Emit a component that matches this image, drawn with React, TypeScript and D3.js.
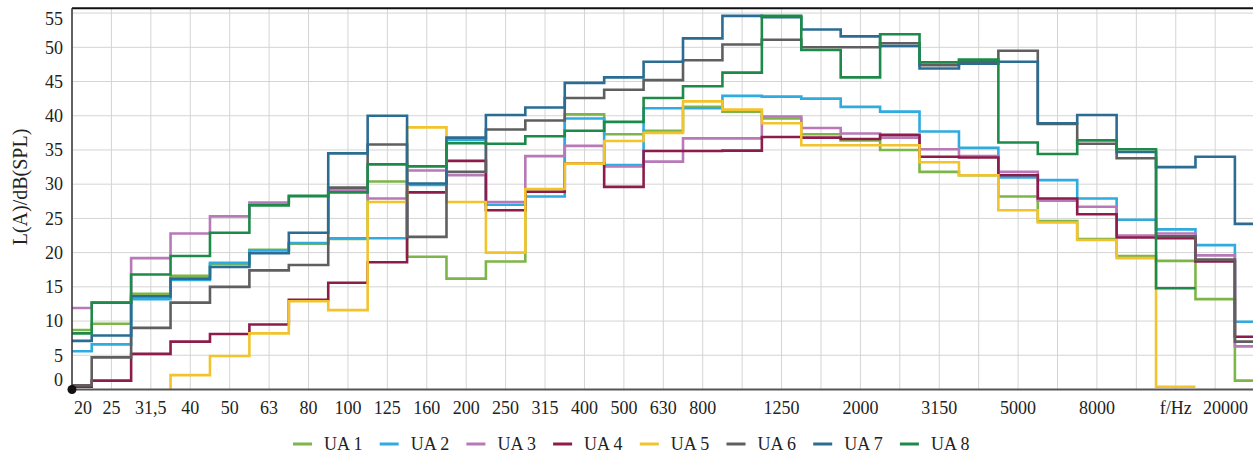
import React from "react";
import * as d3 from "d3";

const bands = ["20","25","31,5","40","50","63","80","100","125","160","200","250","315","400","500","630","800","1000","1250","1600","2000","2500","3150","4000","5000","6300","8000","10000","12500","16000","20000"];
const tickLabels = ["20","25","31,5","40","50","63","80","100","125","160","200","250","315","400","500","630","800","","1250","","2000","","3150","","5000","","8000","","f/Hz","","20000"];
const yTicks = [0,5,10,15,20,25,30,35,40,45,50,55];

const ua1 = [8.7,9.6,14.0,16.6,18.3,20.4,21.3,22.0,30.4,19.4,16.2,18.7,28.9,40.2,37.3,37.8,41.3,40.6,39.6,37.3,36.4,35.0,31.8,31.3,28.2,24.6,22.0,19.5,18.8,13.2,1.3];
const ua2 = [5.6,6.6,13.2,16.0,18.5,20.3,21.4,22.1,22.1,29.9,36.5,27.0,28.2,39.6,32.8,41.1,41.1,42.9,42.8,42.5,41.3,40.6,37.7,35.3,31.0,30.6,27.9,24.8,23.4,21.1,9.9];
const ua3 = [11.9,12.7,19.2,22.8,25.3,27.3,28.2,29.1,27.9,32.0,31.3,27.4,34.1,35.6,32.6,33.3,36.7,36.7,39.9,38.2,37.4,36.8,35.1,34.1,31.8,27.6,26.7,22.5,22.8,19.6,6.3];
const ua4 = [0.4,1.3,5.2,7.0,8.1,9.5,13.1,15.6,18.6,28.8,33.4,26.2,28.9,33.0,29.6,34.85,34.85,34.9,36.9,36.8,36.6,37.2,34.0,33.9,31.3,27.9,25.6,22.2,22.1,18.7,7.7];
const ua5 = [-3,-3,-3,2.1,4.9,8.2,12.9,11.6,27.4,38.3,27.4,20.0,29.3,33.0,36.3,37.5,42.1,40.9,38.9,35.7,35.7,35.7,33.2,31.3,26.2,24.4,21.85,19.2,0.4,null,null];
const ua6 = [0.6,4.7,9.0,12.7,15.0,17.4,18.2,29.5,35.8,22.3,31.8,38.0,39.3,42.6,43.8,45.2,48.1,50.4,51.1,50.0,50.0,50.6,47.4,47.9,49.5,38.8,35.9,33.8,22.4,19.0,7.0];
const ua7 = [7.1,7.9,13.6,16.2,17.9,19.9,22.9,34.5,40.0,30.1,36.8,40.1,41.2,44.8,45.6,47.9,51.3,54.6,54.4,52.6,51.6,50.2,46.9,47.6,47.9,38.9,40.1,34.7,32.5,34.0,24.2];
const ua8 = [8.2,12.7,16.8,19.5,22.9,26.9,28.3,28.8,32.9,32.6,36.0,35.9,37.0,37.8,39.1,42.6,44.3,46.3,54.6,49.6,45.6,51.9,47.8,48.2,36.1,34.4,36.4,35.1,14.8,null,null];

const seriesNames = ["UA 1","UA 2","UA 3","UA 4","UA 5","UA 6","UA 7","UA 8"];
const seriesColors = ["#7db548","#2fabe0","#b879b8","#8c1d4a","#f2c32c","#5f5f5f","#2b6c93","#1e8a4a"];
const seriesValues = [ua1,ua2,ua3,ua4,ua5,ua6,ua7,ua8];

const W = 1253, H = 455;
const PL = 72, PT = 8.3, PB = 389.5, PR = 72 + 30 * 39.42;
const FONT = "'Liberation Serif', 'Times New Roman', serif";

export default function App() {
  const x = d3.scalePoint<string>().domain(bands).range([PL, PR]);
  const step = x.step();
  const y = d3.scaleLinear().domain([0, 55.7]).range([PB, PT]);

  const line = d3.line<{ x: number; v: number | null }>()
    .defined(d => d.v !== null)
    .x(d => d.x)
    .y(d => y(d.v as number));

  const pathFor = (vals: (number | null)[]) => {
    const pts: { x: number; v: number | null }[] = [];
    vals.forEach((v, i) => {
      const cx = x(bands[i]) as number;
      pts.push({ x: cx - step / 2, v });
      pts.push({ x: cx + step / 2, v });
    });
    return line(pts) || "";
  };

  const legendStart = 293, legendStep = 86.7, legendY = 444;

  return (
    <svg width={W} height={H} style={{ position: "absolute", left: 0, top: 0, background: "#fff" }} fontFamily={FONT}>
      <defs>
        <clipPath id="plot">
          <rect x={PL} y={PT} width={PR - PL} height={PB - PT} />
        </clipPath>
      </defs>
      {/* grid */}
      {bands.map((b, i) => (
        <line key={"gx" + i} x1={x(b)} x2={x(b)} y1={PT} y2={PB} stroke="#d4d4d4" strokeWidth={1} />
      ))}
      {yTicks.filter(t => t > 0).map(t => (
        <line key={"gy" + t} x1={PL} x2={PR} y1={y(t)} y2={y(t)} stroke="#d4d4d4" strokeWidth={1} />
      ))}
      {/* series */}
      <g clipPath="url(#plot)">
        {seriesValues.map((vals, k) => (
          <path key={k} d={pathFor(vals)} fill="none" stroke={seriesColors[k]} strokeWidth={2.6} strokeLinejoin="miter" />
        ))}
      </g>
      {/* frame */}
      <line x1={PL} x2={PR} y1={PT} y2={PT} stroke="#111" strokeWidth={2} />
      <line x1={PL} x2={PL} y1={PT} y2={PB} stroke="#333" strokeWidth={1.5} />
      <line x1={PL} x2={PR} y1={PB} y2={PB} stroke="#555" strokeWidth={2} />
      <circle cx={PL} cy={PB} r={4.5} fill="#111" />
      {/* y tick labels */}
      {yTicks.map(t => (
        <text key={"yl" + t} x={63} y={Math.min(380, Math.max(19, y(t)))} dy="0.35em" textAnchor="end" fontSize={18} fill="#222">{t}</text>
      ))}
      {/* x tick labels */}
      {tickLabels.map((lab, i) => {
        if (!lab) return null;
        const cx = x(bands[i]) as number;
        const first = i === 0, last = i === tickLabels.length - 1;
        return (
          <text key={"xl" + i} x={first ? cx + 2 : last ? W - 5 : cx} y={414} textAnchor={first ? "start" : last ? "end" : "middle"} fontSize={18} fill="#222">{lab}</text>
        );
      })}
      {/* y title */}
      <text transform={`translate(27,187) rotate(-90)`} textAnchor="middle" fontSize={20} fill="#222">L(A)/dB(SPL)</text>
      {/* legend */}
      {seriesNames.map((n, k) => {
        const lx = legendStart + k * legendStep;
        return (
          <g key={"lg" + k}>
            <line x1={lx} x2={lx + 19} y1={legendY} y2={legendY} stroke={seriesColors[k]} strokeWidth={3} />
            <text x={lx + 31} y={legendY} dy="0.35em" fontSize={18} fill="#222">{n}</text>
          </g>
        );
      })}
    </svg>
  );
}
